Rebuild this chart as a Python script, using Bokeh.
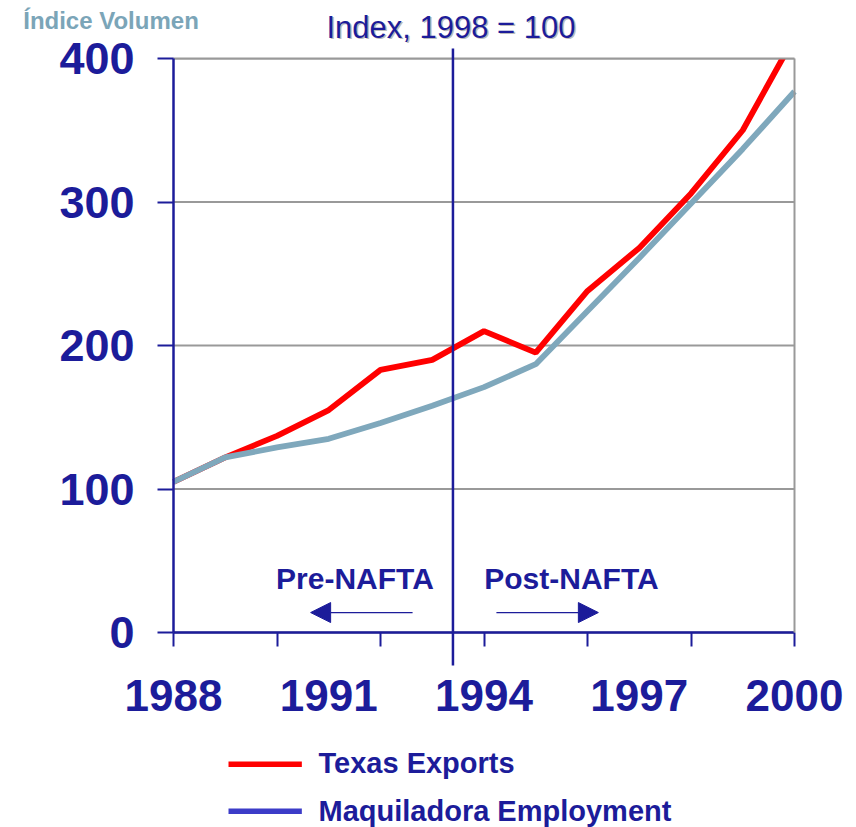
from bokeh.plotting import figure
from bokeh.models import FixedTicker, Arrow, NormalHead, Label, Range1d, LinearAxis
from bokeh.embed import file_html
from bokeh.resources import INLINE

# ---- data ----
years = [1988, 1989, 1990, 1991, 1992, 1993, 1994, 1995, 1996, 1997, 1998, 1999, 2000]
texas_exports = [105, 122, 137, 155, 183, 190, 210, 195, 238, 268, 306, 350, 415]
maquiladora_employment = [105, 122, 129, 135, 146, 158, 171, 187, 224, 261, 299, 337, 377]
x_label_ticks = [1988, 1991, 1994, 1997, 2000]
x_mark_ticks = [1988, 1990, 1992, 1994, 1996, 1998, 2000]
y_ticks = [0, 100, 200, 300, 400]
nafta_x = 1993.4

NAVY = "#1C1C9A"
RED = "#FF0000"
GREYBLUE = "#7FA8BC"
LEGBLUE = "#3C3CC8"
GRID = "#999999"
FONT = "Liberation Sans"

# ---- layout: the frame covers the whole canvas; the axes sit at fixed data locations ----
W, H = 856, 827
PX_LEFT, PX_PER_YEAR = 173, 51.75     # pixel of x = 1988, pixels per year
PX_ZERO, PX_PER_UNIT = 632, 1.435     # pixel of y = 0, pixels per index unit
X0, X1 = years[0], years[-1]
Y0, Y1 = y_ticks[0], y_ticks[-1]

x_range = Range1d(X0 - PX_LEFT / PX_PER_YEAR, X0 + (W - PX_LEFT) / PX_PER_YEAR)
y_range = Range1d(-(H - PX_ZERO) / PX_PER_UNIT, PX_ZERO / PX_PER_UNIT)

p = figure(width=W, height=H, x_range=x_range, y_range=y_range,
           output_backend="svg", toolbar_location=None,
           min_border_left=0, min_border_right=0, min_border_top=0, min_border_bottom=0)
p.background_fill_color = "white"
p.border_fill_color = "white"
p.outline_line_color = None
p.grid.grid_line_color = None

# horizontal gridlines across the chart area only
p.segment(x0=X0, x1=X1, y0=y_ticks, y1=y_ticks, line_color=GRID, line_width=2)

# x axis
xa = p.xaxis[0]
xa.fixed_location = Y0
xa.bounds = (X0, X1)
xa.ticker = FixedTicker(ticks=x_label_ticks, minor_ticks=x_mark_ticks)
xa.major_tick_out = 0
xa.major_tick_in = 0
xa.minor_tick_out = 14
xa.minor_tick_in = 0
xa.minor_tick_line_color = NAVY
xa.minor_tick_line_width = 2
xa.axis_line_color = NAVY
xa.axis_line_width = 2.5
xa.major_label_text_font = FONT
xa.major_label_text_font_style = "bold"
xa.major_label_text_font_size = "44px"
xa.major_label_text_color = NAVY
xa.major_label_standoff = 33

# y axis
ya = p.yaxis[0]
ya.fixed_location = X0
ya.bounds = (Y0, Y1)
ya.ticker = FixedTicker(ticks=y_ticks)
ya.major_tick_out = 16
ya.major_tick_in = 0
ya.minor_tick_out = 0
ya.minor_tick_in = 0
ya.major_tick_line_color = NAVY
ya.major_tick_line_width = 2
ya.axis_line_color = NAVY
ya.axis_line_width = 2.5
ya.major_label_text_font = FONT
ya.major_label_text_font_style = "bold"
ya.major_label_text_font_size = "45px"
ya.major_label_text_color = NAVY
ya.major_label_standoff = 23

# series
p.line(years, texas_exports, line_color=RED, line_width=5.8)
p.line(years, maquiladora_employment, line_color=GREYBLUE, line_width=5.8)

# the chart area ends at the top gridline: mask what rises above it
p.quad(left=[X0], right=[X1 + 0.3], bottom=[Y1], top=[Y1 + 30],
       fill_color="white", line_color=None)

# frame borders (top and right), drawn as plain axes
for loc, side, bnds in ((Y1, "above", (X0, X1)), (X1, "right", (Y0, Y1))):
    ax = LinearAxis(fixed_location=loc, bounds=bnds, ticker=FixedTicker(ticks=[]),
                    axis_line_color=GRID, axis_line_width=2,
                    major_tick_out=0, major_tick_in=0, minor_tick_out=0, minor_tick_in=0,
                    major_label_text_alpha=0)
    p.add_layout(ax, side)

# NAFTA divider
p.add_layout(Arrow(end=None, x_start=nafta_x, y_start=-23, x_end=nafta_x, y_end=407,
                   line_color=NAVY, line_width=2.5))

# Pre / Post NAFTA arrows
p.add_layout(Arrow(end=NormalHead(size=20, fill_color=NAVY, line_color=NAVY),
                   x_start=1992.62, y_start=13.9, x_end=1990.65, y_end=13.9,
                   line_color=NAVY, line_width=1.2))
p.add_layout(Arrow(end=NormalHead(size=20, fill_color=NAVY, line_color=NAVY),
                   x_start=1994.24, y_start=13.9, x_end=1996.21, y_end=13.9,
                   line_color=NAVY, line_width=1.2))

def lab(text, x, y, size, color=NAVY, style="bold", align="left", dx=0.0, dy=0.0):
    # y is the baseline position; lift by the renderer's offset
    px = float(size.replace("px", ""))
    y_adj = y + (0.37 * px + dy) / PX_PER_UNIT
    p.add_layout(Label(text=text, x=x + dx / PX_PER_YEAR, y=y_adj, text_font=FONT,
                       text_font_style=style, text_font_size=size, text_color=color,
                       text_align=align, text_baseline="alphabetic"))

lab("Pre-NAFTA", 1991.507, 29.97, "30px", align="center")
lab("Post-NAFTA", 1995.69, 29.97, "30px", align="center")

# title with shadow
lab("Index, 1998 = 100", 1993.362, 413.9, "31px", color="#BBBBBB", style="normal",
    align="center", dx=1.5, dy=-1.5)
lab("Index, 1998 = 100", 1993.362, 413.9, "31px", style="normal", align="center")

lab("Índice Volumen", 1985.096, 420.2, "24px", color="#7BA5B8")

# legend
p.add_layout(Arrow(end=None, x_start=1989.063, y_start=-91.8, x_end=1990.48, y_end=-91.8,
                   line_color=RED, line_width=5.5))
p.add_layout(Arrow(end=None, x_start=1989.063, y_start=-124.6, x_end=1990.48, y_end=-124.6,
                   line_color=LEGBLUE, line_width=5.5))
lab("Texas Exports", 1990.802, -98.3, "29px")
lab("Maquiladora Employment", 1990.802, -131.7, "29px")

open("out.html", "w").write(file_html(p, INLINE))
